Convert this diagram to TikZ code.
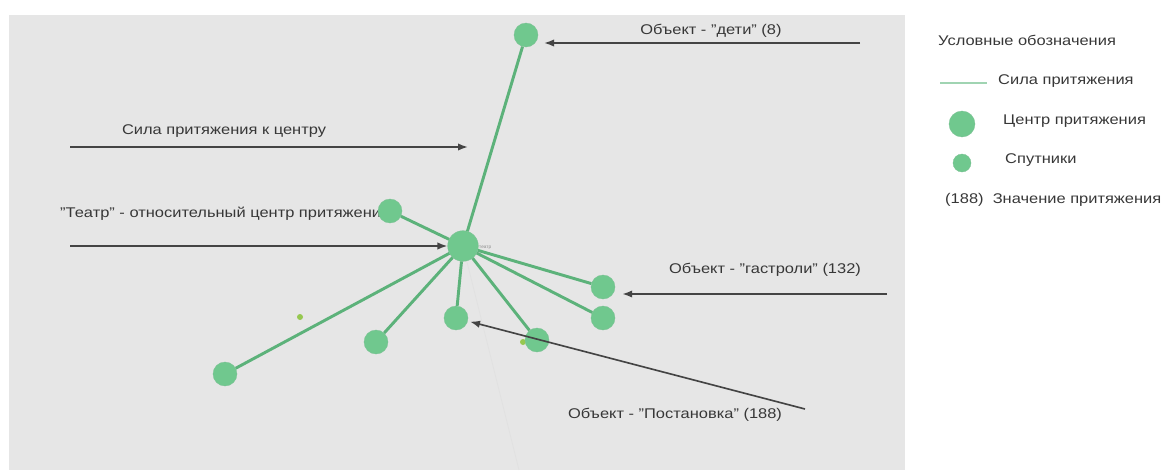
\documentclass[tikz,border=0pt]{standalone}
\usepackage{fontspec}
\setmainfont{Liberation Sans}
\usetikzlibrary{arrows.meta}
\definecolor{panelgray}{RGB}{230,230,230}
\definecolor{nodegreen}{RGB}{112,200,142}
\definecolor{edgegreen}{RGB}{92,178,122}
\definecolor{pullline}{RGB}{160,212,178}
\definecolor{dotgreen}{RGB}{150,200,80}
\definecolor{pointgray}{RGB}{68,68,68}
\definecolor{textgray}{RGB}{55,55,55}
\newcommand{\wide}[1]{\scalebox{1.17}[1]{#1}}
\tikzset{
  sat/.style={circle, fill=nodegreen, draw=edgegreen!80, line width=0.3pt, minimum size=0.72cm, inner sep=0pt},
  hub/.style={sat, minimum size=0.92cm},
  pull/.style={line width=2.5pt, color=edgegreen},
  pointer/.style={line width=1.4pt, color=pointgray, -{Latex[length=3mm,width=2.2mm]}},
  caption/.style={font=\fontsize{12}{14}\selectfont, text=textgray, inner sep=0pt},
  legendtext/.style={caption, anchor=west}
}
\begin{document}
\begin{tikzpicture}[x=0.03cm, y=-0.03cm]
		%%%%% START %%%%%
		\useasboundingbox (0, 0) rectangle (1168, 470);
		\fill[panelgray] (9, 15) rectangle (905, 470);
		
		\draw[line width=0.5pt, color=black!12] (463, 246) -- (519, 470);
		\fill[dotgreen] (300, 317) circle (3);
		\fill[dotgreen] (523, 342) circle (3);
		
		\node[legendtext] (teatrtext) at (60, 214) {\wide{"Театр" - относительный центр притяжения}};
		
		\node[hub] (teatr) at (463, 246) {};
		\node[font=\fontsize{4}{5}\selectfont, text=black!45, anchor=west, inner sep=0pt] (teatrname) at (479, 248) {театр};
		\node[sat] (deti) at (526, 35) {};
		\node[sat] (upleft) at (390, 211) {};
		\node[sat] (gastroli) at (603, 287) {};
		\node[sat] (right) at (603, 318) {};
		\node[sat] (postanovka) at (456, 318) {};
		\node[sat] (lowright) at (537, 340) {};
		\node[sat] (lowmid) at (376, 342) {};
		\node[sat] (far) at (225, 374) {};
		
		\foreach \s in {deti, upleft, gastroli, right, postanovka, lowright, lowmid, far}
			\draw[pull] (teatr) -- (\s);
		
		% labels and arrows
		\coordinate (detitail) at (860, 43);
		\draw[pointer, shorten >=5] (detitail) -- (detitail -| deti.east);
		\node[caption] (detitext) at (711, 31) {\wide{Объект - "дети" (8)}};
		
		\coordinate (forcetail) at (70, 147);
		\coordinate (forcehead) at (468, 147);
		\draw[pointer] (forcetail) -- (forcehead);
		\node[caption] (forcetext) at (224, 131) {\wide{Сила притяжения к центру}};
		
		\coordinate (teatrtail) at (70, 246);
		\draw[pointer] (teatrtail) -- (teatr);
		
		\coordinate (gastrolitail) at (887, 294);
		\draw[pointer, shorten >=6] (gastrolitail) -- (gastrolitail -| gastroli.east);
		\node[caption] (gastrolitext) at (765, 270) {\wide{Объект - "гастроли" (132)}};
		
		\coordinate (postanovkatail) at (805, 409);
		\draw[pointer, shorten >=2] (postanovkatail) -- (postanovka);
		\node[caption] (postanovkatext) at (675, 415) {\wide{Объект - "Постановка" (188)}};
		
		% legend
		\node[legendtext] (legendhead) at (938, 40) {\wide{Условные обозначения}};
		\coordinate (legendline) at (940, 83);
		\draw[line width=1.2pt, color=pullline] (legendline) -- ++(47, 0);
		\node[legendtext] (legendpull) at (998, 81) {\wide{Сила притяжения}};
		\node[sat, minimum size=0.78cm] (legendhub) at (962, 124) {};
		\node[legendtext] (legendcenter) at (1003, 121) {\wide{Центр притяжения}};
		\node[sat, minimum size=0.54cm] (legendsat) at (962, 163) {};
		\node[legendtext] (legendsats) at (1005, 160) {\wide{Спутники}};
		\node[legendtext] (legendvalue) at (945, 200) {\wide{(188)~~Значение притяжения}};
		
		%%%%% END %%%%%
	\end{tikzpicture}
\end{document}
